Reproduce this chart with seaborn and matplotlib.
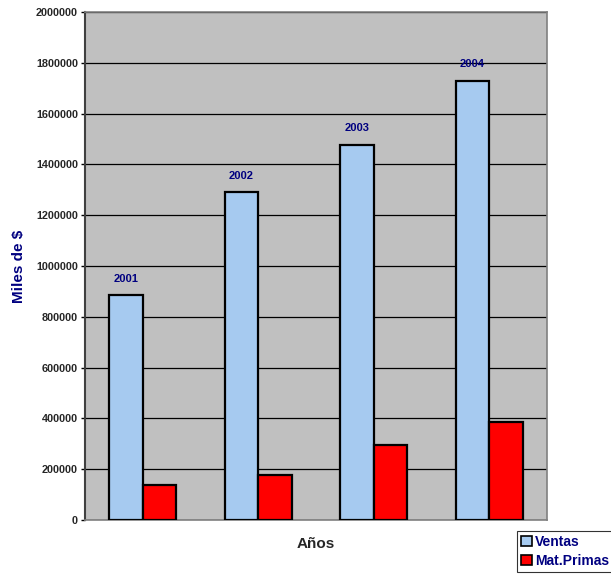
import matplotlib
matplotlib.use("Agg")
import matplotlib.pyplot as plt
import matplotlib.font_manager as fm
import seaborn as sns
import pandas as pd
from matplotlib.patches import Patch

years = ["2001", "2002", "2003", "2004"]
ventas = [885000, 1290000, 1476000, 1728000]
mat_primas = [139000, 176000, 296000, 386000]
series_names = ["Ventas", "Mat.Primas"]
colors = ["#A6CAF0", "#FF0000"]
yticks = list(range(0, 2000001, 200000))

df = pd.DataFrame({
    "Año": years * 2,
    "Valor": ventas + mat_primas,
    "Serie": [series_names[0]] * 4 + [series_names[1]] * 4,
})

sns.set_style("white")
plt.rcParams["font.family"] = ["Liberation Sans", "DejaVu Sans"]


def fp(size):
    return fm.FontProperties(family=["Liberation Sans", "DejaVu Sans"],
                             weight="bold", stretch="normal", size=size)


fig = plt.figure(figsize=(6.11, 5.79), dpi=100)
ax = fig.add_axes([85 / 611, 59 / 579, 462 / 611, 508 / 579])
ax.set_facecolor("#C0C0C0")

sns.barplot(data=df, x="Año", y="Valor", hue="Serie", palette=colors,
            width=0.577, edgecolor="black", linewidth=1.6, ax=ax,
            legend=False, saturation=1, zorder=3)

ax.set_ylim(0, 2000000)
ax.set_xlim(-0.5, 3.5)
ax.set_yticks(yticks)
ax.set_yticklabels([str(v) for v in yticks])
for lab in ax.get_yticklabels():
    lab.set_fontproperties(fp(7.8))
ax.set_xticks([])
ax.yaxis.grid(True, color="black", linewidth=0.9, zorder=0)
ax.set_axisbelow(True)
ax.tick_params(axis="y", length=3, width=1, color="black", pad=2, left=True)
for s in ["top", "right"]:
    ax.spines[s].set_color("#808080")
    ax.spines[s].set_linewidth(1.2)
ax.spines["left"].set_color("#404040")
ax.spines["left"].set_linewidth(1.5)
ax.spines["bottom"].set_color("#808080")
ax.spines["bottom"].set_linewidth(1.2)

# year labels above Ventas bars
for i, (yr, v) in enumerate(zip(years, ventas)):
    bar = ax.containers[0][i]
    cx = bar.get_x() + bar.get_width() / 2
    ax.annotate(yr, (cx, v), xytext=(0, 12), textcoords="offset points",
                ha="center", va="center", fontproperties=fp(8),
                color="#000080")

ax.set_xlabel("Años", fontproperties=fp(11), labelpad=12)
ax.set_ylabel("Miles de $", fontproperties=fp(11), color="#000080",
              labelpad=7)

handles = [Patch(facecolor=c, edgecolor="black", linewidth=1.2) for c in colors]
leg = fig.legend(handles, series_names, loc="upper left",
                 bbox_to_anchor=(517 / 611, 1 - 531 / 579), borderaxespad=0,
                 frameon=True, fancybox=False, edgecolor="black",
                 handlelength=0.75, handleheight=0.75, handletextpad=0.25,
                 borderpad=0.3, labelspacing=0.35, prop=fp(10))
for t in leg.get_texts():
    t.set_color("#000080")
leg.get_frame().set_linewidth(0.8)

fig.savefig("out.png", dpi=100)
